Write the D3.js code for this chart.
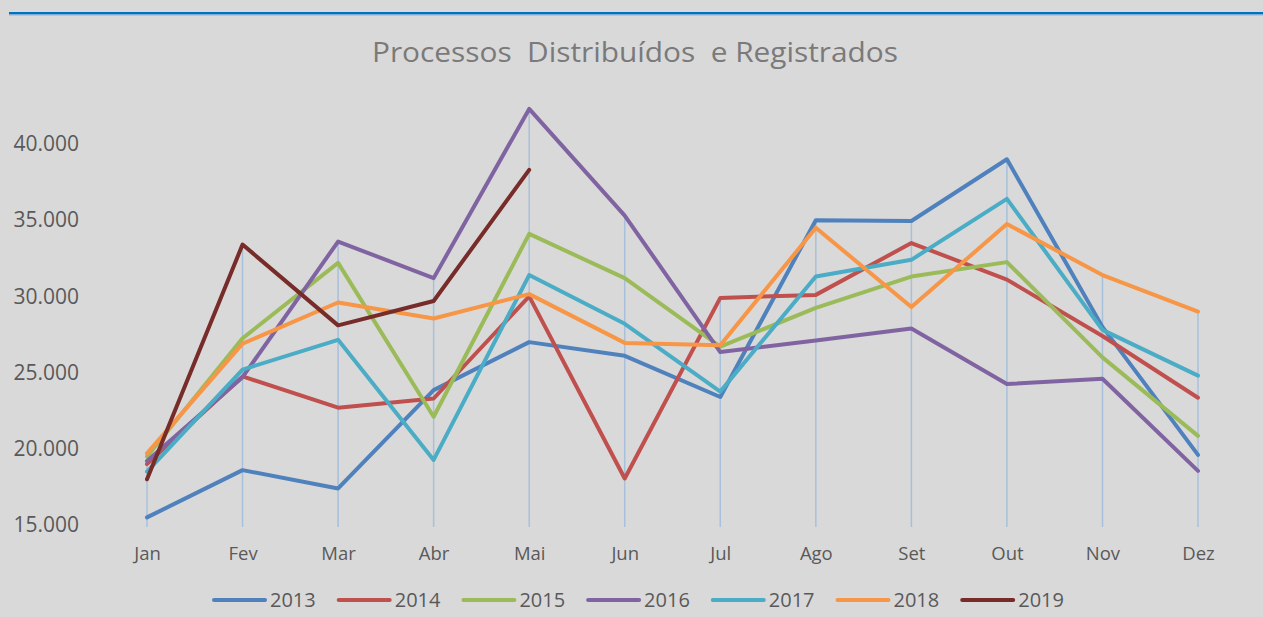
<!DOCTYPE html>
<html>
<head>
<meta charset="utf-8">
<script src="https://cdn.jsdelivr.net/npm/d3@7"></script>
<style>
  html, body { margin: 0; padding: 0; background: #d9d9d9; }
  svg { display: block; }
  text { font-family: "Open Sans", sans-serif; }
</style>
</head>
<body>
<svg id="chart" width="1263" height="617"></svg>
<script>
const months = ['Jan', 'Fev', 'Mar', 'Abr', 'Mai', 'Jun', 'Jul', 'Ago', 'Set', 'Out', 'Nov', 'Dez'];
const years = ['2013', '2014', '2015', '2016', '2017', '2018', '2019'];
const yTicks = [15000, 20000, 25000, 30000, 35000, 40000];

const v2013 = [15500, 18600, 17400, 23850, 27000, 26100, 23400, 35000, 34950, 39000, 28000, 19600];
const v2014 = [19000, 24750, 22700, 23300, 30000, 18050, 29900, 30100, 33500, 31100, 27400, 23350];
const v2015 = [19500, 27250, 32200, 22100, 34100, 31200, 26700, 29250, 31300, 32250, 26000, 20850];
const v2016 = [19200, 24700, 33600, 31200, 42300, 35300, 26350, 27100, 27900, 24250, 24600, 18550];
const v2017 = [18500, 25200, 27150, 19270, 31400, 28200, 23750, 31300, 32400, 36400, 27800, 24800];
const v2018 = [19700, 26900, 29600, 28550, 30150, 26950, 26800, 34500, 29300, 34750, 31400, 29000];
const v2019 = [18000, 33400, 28100, 29700, 38300, null, null, null, null, null, null, null];

const seriesValues = [v2013, v2014, v2015, v2016, v2017, v2018, v2019];
const colors = ['#4f81bd', '#c0504d', '#9bbb59', '#8064a2', '#4bacc6', '#f79646', '#772c2a'];

const svg = d3.select('#chart');
const fmt = d3.formatLocale({decimal: ',', thousands: '.', grouping: [3], currency: ['R$', '']}).format(',.0f');

// Top accent line
svg.append('rect').attr('x', 9).attr('y', 12).attr('width', 1254).attr('height', 2.5).attr('fill', '#0070c0');
svg.append('rect').attr('x', 9).attr('y', 14.5).attr('width', 1254).attr('height', 1).attr('fill', '#8db3dc');

// Title
svg.append('text')
  .attr('x', 635)
  .attr('y', 62)
  .attr('text-anchor', 'middle')
  .attr('font-size', '27px')
  .attr('fill', '#7a7a7a')
  .attr('textLength', 526)
  .attr('lengthAdjust', 'spacingAndGlyphs')
  .style('white-space', 'pre')
  .text('Processos  Distribuídos  e Registrados');

// Scales
const x = d3.scalePoint().domain(months).range([147, 1198]);
const y = d3.scaleLinear().domain([15000, 40000]).range([525, 144]);

// Drop lines from the highest point of each month down to the axis
const maxByMonth = months.map((m, i) => d3.max(seriesValues, s => s[i]));
svg.append('g')
  .selectAll('line')
  .data(maxByMonth)
  .enter()
  .append('line')
  .attr('x1', (d, i) => x(months[i]))
  .attr('x2', (d, i) => x(months[i]))
  .attr('y1', d => y(d))
  .attr('y2', y(15000) + 2)
  .attr('stroke', '#a7c0dc')
  .attr('stroke-width', 1.5);

// Y axis labels
const yAxis = svg.append('g')
  .attr('transform', 'translate(79,0)')
  .call(d3.axisLeft(y).tickValues(yTicks).tickFormat(fmt).tickSize(0).tickPadding(0));
yAxis.select('.domain').remove();
yAxis.selectAll('text')
  .attr('font-family', '"Open Sans", sans-serif')
  .attr('font-size', '21px')
  .attr('fill', '#595959');

// X axis labels
const xAxis = svg.append('g')
  .attr('transform', 'translate(0,547)')
  .call(d3.axisBottom(x).tickSize(0).tickPadding(0));
xAxis.select('.domain').remove();
xAxis.selectAll('text')
  .attr('font-family', '"Open Sans", sans-serif')
  .attr('font-size', '18.5px')
  .attr('fill', '#595959');

// Lines
const line = d3.line()
  .defined(d => d != null)
  .x((d, i) => x(months[i]))
  .y(d => y(d));

svg.append('g')
  .selectAll('path')
  .data(seriesValues)
  .enter()
  .append('path')
  .attr('fill', 'none')
  .attr('stroke', (d, i) => colors[i])
  .attr('stroke-width', 4)
  .attr('stroke-linejoin', 'round')
  .attr('stroke-linecap', 'round')
  .attr('d', line);

// Legend
const legend = svg.append('g')
  .selectAll('g')
  .data(years)
  .enter()
  .append('g')
  .attr('transform', (d, i) => `translate(${214 + i * 124.7},600)`);
legend.append('line')
  .attr('x1', 0).attr('x2', 51)
  .attr('stroke', (d, i) => colors[i])
  .attr('stroke-width', 4)
  .attr('stroke-linecap', 'round');
legend.append('text')
  .attr('x', 56)
  .attr('y', 7)
  .attr('font-size', '20px')
  .attr('fill', '#595959')
  .text(d => d);
</script>
</body>
</html>
